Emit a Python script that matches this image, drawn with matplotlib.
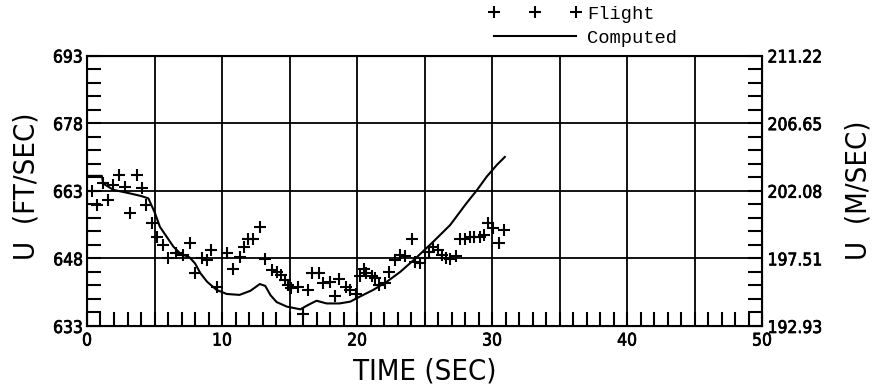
import matplotlib.pyplot as plt
import matplotlib.patheffects as pe
from matplotlib.ticker import MultipleLocator
from matplotlib.lines import Line2D

# flight test points (time sec, U ft/sec)
flight_t = [0.35, 0.72, 1.2, 1.58, 1.95, 2.4, 2.8, 3.2, 3.7, 4.05, 4.4, 4.8,
            5.16, 5.65, 6.0, 6.6, 7.1, 7.6, 8.0, 8.5, 8.9, 9.2, 9.6, 10.35,
            10.8, 11.3, 11.6, 11.95, 12.3, 12.8, 13.2, 13.7, 14.05, 14.4,
            14.7, 14.9, 15.1, 15.65, 16.0, 16.4, 16.7, 17.2, 17.5, 18.0,
            18.4, 18.7, 19.2, 19.5, 19.9, 20.2, 20.5, 20.7, 21.1, 21.3, 21.6,
            22.1, 22.4, 22.8, 23.2, 23.55, 24.05, 24.3, 24.7, 25.0, 25.3,
            25.65, 26.0, 26.3, 26.6, 26.9, 27.3, 27.6, 28.0, 28.4, 28.7,
            29.1, 29.4, 29.7, 30.1, 30.5, 30.9]
flight_u = [663.0, 659.8, 664.8, 660.9, 664.3, 666.5, 663.9, 658.1, 666.5,
            663.5, 659.8, 655.8, 652.8, 651.0, 648.0, 649.1, 648.7, 651.3,
            644.7, 648.0, 647.6, 649.9, 641.7, 649.1, 645.6, 648.4, 650.6,
            652.4, 652.4, 654.9, 647.8, 645.4, 645.0, 644.3, 643.2, 642.1,
            641.4, 641.7, 635.7, 641.0, 644.8, 644.7, 642.6, 642.8, 639.7,
            643.4, 641.7, 641.0, 640.2, 644.1, 645.6, 644.7, 644.1, 643.6,
            642.1, 642.5, 645.0, 647.6, 648.7, 648.5, 652.2, 647.3, 647.0,
            648.0, 649.5, 650.6, 649.9, 648.7, 648.0, 647.8, 648.5, 652.2,
            652.4, 652.7, 652.8, 652.8, 653.2, 655.8, 654.7, 651.5, 654.4]

# computed curve
comp_t = [0, 1.1, 1.2, 1.95, 3.2, 4.05, 4.55, 5.04, 5.4, 5.9, 6.4, 6.9, 7.6,
          8.0, 8.4, 8.9, 9.6, 10.35, 11.3, 12.1, 12.8, 13.2, 13.6, 14.05,
          14.8, 15.8, 16.4, 17.0, 17.75, 18.7, 19.5, 20.2, 21.2, 22.2, 23.2,
          24.3, 25.65, 26.9, 28.1, 28.9, 29.6, 30.35, 30.95]
comp_u = [666.3, 666.3, 664.6, 663.2, 662.4, 661.8, 661.3, 658.0, 655.0,
          652.8, 650.6, 649.1, 648.2, 646.9, 644.7, 642.8, 641.0, 640.1,
          639.9, 640.8, 642.3, 641.9, 639.8, 638.3, 637.3, 636.7, 637.7,
          638.6, 638.0, 638.0, 638.4, 639.5, 641.0, 642.8, 645.0, 647.9,
          651.7, 655.4, 660.2, 663.2, 666.1, 668.7, 670.5]

ft_ticks = [633, 648, 663, 678, 693]
ms_labels = ["192.93", "197.51", "202.08", "206.65", "211.22"]
x_ticks = [0, 5, 10, 15, 20, 25, 30, 35, 40, 45, 50]
x_labels = ["0", "", "10", "", "20", "", "30", "", "40", "", "50"]

tick_font = dict(family=["DejaVu Sans"], size=12.5, fontstretch="condensed")
label_font = dict(family=["DejaVu Sans"], size=21, fontstretch="condensed")
mono = "Liberation Mono"
thick = [pe.withStroke(linewidth=0.5, foreground="black")]

fig = plt.figure(figsize=(8.77, 3.92), dpi=100)
ax = fig.add_axes([0.0992, 0.1684, 0.7697, 0.69])

ax.plot(comp_t, comp_u, color="black", lw=1.5)
ax.plot(flight_t, flight_u, ls="none", marker="+", ms=9, mew=1.5, color="black")

ax.set_xlim(0, 50)
ax.set_ylim(633, 693)
ax.set_xticks(x_ticks)
ax.set_xticklabels(x_labels, fontdict=tick_font)
ax.set_yticks(ft_ticks)
ax.set_yticklabels([str(v) for v in ft_ticks], fontdict=tick_font)
ax.xaxis.set_minor_locator(MultipleLocator(1))
ax.yaxis.set_minor_locator(MultipleLocator(3))
ax.tick_params(which="both", direction="in", length=10, width=1.5, color="black")
ax.tick_params(axis="x", pad=4)
ax.tick_params(axis="y", pad=3)
ax.grid(True, which="major", color="black", lw=1.3)
for s in ax.spines.values():
    s.set_linewidth(1.5)

ax2 = ax.twinx()
ax2.set_ylim(633, 693)
ax2.set_yticks(ft_ticks)
ax2.set_yticklabels(ms_labels, fontdict=tick_font)
ax2.yaxis.set_minor_locator(MultipleLocator(3))
ax2.tick_params(which="both", direction="in", length=10, width=1.5, pad=4)

for t in ax.get_xticklabels() + ax.get_yticklabels() + ax2.get_yticklabels():
    t.set_path_effects(thick)

ax.set_xlabel("TIME (SEC)", fontdict=label_font, labelpad=6)
ax.set_ylabel("U  (FT/SEC)", fontdict=label_font, labelpad=9, ha="left")
ax.yaxis.label.set_y(0.244)
ax2.set_ylabel("U  (M/SEC)", fontdict=label_font, rotation=90, labelpad=16,
               ha="left")
ax2.yaxis.label.set_y(0.244)

handles = [Line2D([], [], ls="none", marker="+", ms=9, mew=1.5, color="black"),
           Line2D([], [], color="black", lw=1.5)]
fig.legend(handles, ["Flight", "Computed"], loc="upper left",
           bbox_to_anchor=(488 / 877, 0.985), frameon=False, numpoints=3,
           handlelength=5.0, handletextpad=0.3, borderpad=0, borderaxespad=0,
           labelspacing=0.35, prop=dict(family=mono, size=13.5))

fig.savefig("out.png", dpi=100)
